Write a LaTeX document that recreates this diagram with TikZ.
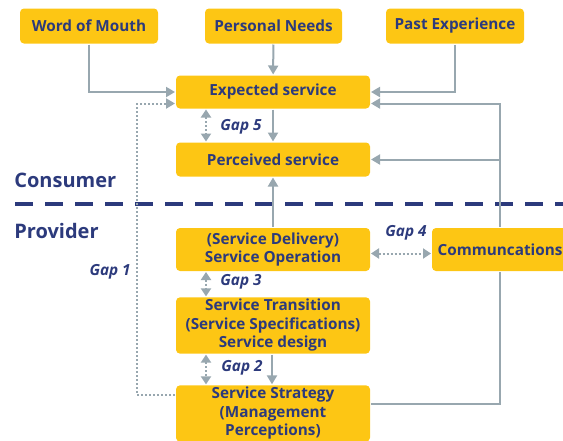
\documentclass[tikz,border=0pt]{standalone}
\usepackage{fontspec}
\setsansfont{Open Sans}
\usetikzlibrary{arrows.meta, positioning, calc}
\definecolor{cgold}{HTML}{FDC614}
\definecolor{cnavy}{HTML}{2C3A7C}
\definecolor{cgrey}{HTML}{98A7AF}
\tikzset{
  every picture/.style={font=\sffamily\bfseries, line width=2pt},
  box/.style={fill=cgold, rounded corners=4pt, text=cnavy, align=center, inner sep=2pt,
    minimum width=194pt, font=\sffamily\bfseries\fontsize{15.3}{18.5}\selectfont},
  arrow/.style={-{Triangle[length=9pt, width=10pt]}, draw=cgrey, line width=2pt},
  link/.style={draw=cgrey, line width=2pt},
  gap/.style={{Triangle[length=8pt, width=10pt]}-{Triangle[length=8pt, width=10pt]}, draw=cgrey, dash pattern=on 2pt off 2pt},
  gapline/.style={-{Triangle[length=9pt, width=10pt]}, draw=cgrey, dash pattern=on 2pt off 2pt},
  gaplabel/.style={text=cnavy, font=\sffamily\bfseries\itshape\fontsize{15.3}{18}\selectfont},
  side/.style={text=cnavy, anchor=west, font=\sffamily\bfseries\fontsize{20}{24}\selectfont},
}

\begin{document}
\begin{tikzpicture}[x=1pt, y=-1pt]
  \useasboundingbox (0,0) rectangle (563,440);
  % expectation sources
  \node[box, minimum width=138pt, minimum height=35pt] (mouth) at (89,26) {Word of Mouth};
  \node[box, minimum width=137pt, minimum height=35pt] (needs) at (273.5,26) {Personal Needs};
  \node[box, minimum width=138pt, minimum height=35pt] (past) at (455,26) {Past Experience};
  % consumer side
  \node[box, minimum height=33pt] (expected) at (273,92) {Expected service};
  \node[box, minimum height=34pt] (perceived) at (273,159.5) {Perceived service};
  % provider side
  \node[box, minimum height=43pt] (operation) at (273,249.5) {(Service Delivery)\\Service Operation};
  \node[box, minimum width=136pt, minimum height=43pt] (comms) at (500,249.5) {Communcations};
  \node[box, minimum height=54pt] (transition) at (273,325.5) {Service Transition\\(Service Specifications)\\Service design};
  \node[box, minimum height=56pt] (strategy) at (273,413.5) {Service Strategy\\(Management\\Perceptions)};

  \node[side] (consumer) at (10,180) {Consumer};
  \node[side] (provider) at (10,231) {Provider};
  \coordinate (divl) at (15,204);
  \coordinate (divr) at (563,204);
  \draw[cnavy, line width=4.5pt, dash pattern=on 18pt off 12pt] (divl) -- (divr);

  \draw[arrow] (mouth.south) |- (expected.west);
  \draw[arrow] (needs) -- (expected);
  \draw[arrow] (past.south) |- (expected.east);
  \draw[arrow] (expected) -- (perceived);
  \draw[arrow] (operation) -- (perceived);
  \draw[arrow] ([xshift=-1pt]transition.south) -- ([xshift=-1pt]strategy.north);

  % gaps
  \draw[gap] ([xshift=31pt]expected.south west) -- ([xshift=31pt]perceived.north west);
  \node[gaplabel] (gapfive) at (241,127) {Gap 5};
  \draw[gap] ([xshift=31pt]operation.south west) -- ([xshift=31pt]transition.north west);
  \node[gaplabel] (gapthree) at (241,282) {Gap 3};
  \draw[gap] ([xshift=31pt]transition.south west) -- ([xshift=31pt]strategy.north west);
  \node[gaplabel] (gaptwo) at (242,368) {Gap 2};
  \draw[gap] ([yshift=-4pt]operation.east) -- ([yshift=-4pt]comms.west);
  \node[gaplabel] (gapfour) at (406,233) {Gap 4};
  \coordinate (lane) at (137,103.5);
  \draw[gapline] ([yshift=19pt]strategy.west) -| (lane) -- ([yshift=-11.5pt]expected.west);
  \node[gaplabel, anchor=east] (gapone) at (135,272) {Gap 1};

  % communications feedback
  \draw[arrow] (comms.north) |- ([yshift=-11.5pt]expected.east);
  \draw[arrow] (comms.north |- perceived.east) -- (perceived.east);
  \draw[link] ([yshift=10pt]strategy.east) -| (comms.south);
\end{tikzpicture}
\end{document}
